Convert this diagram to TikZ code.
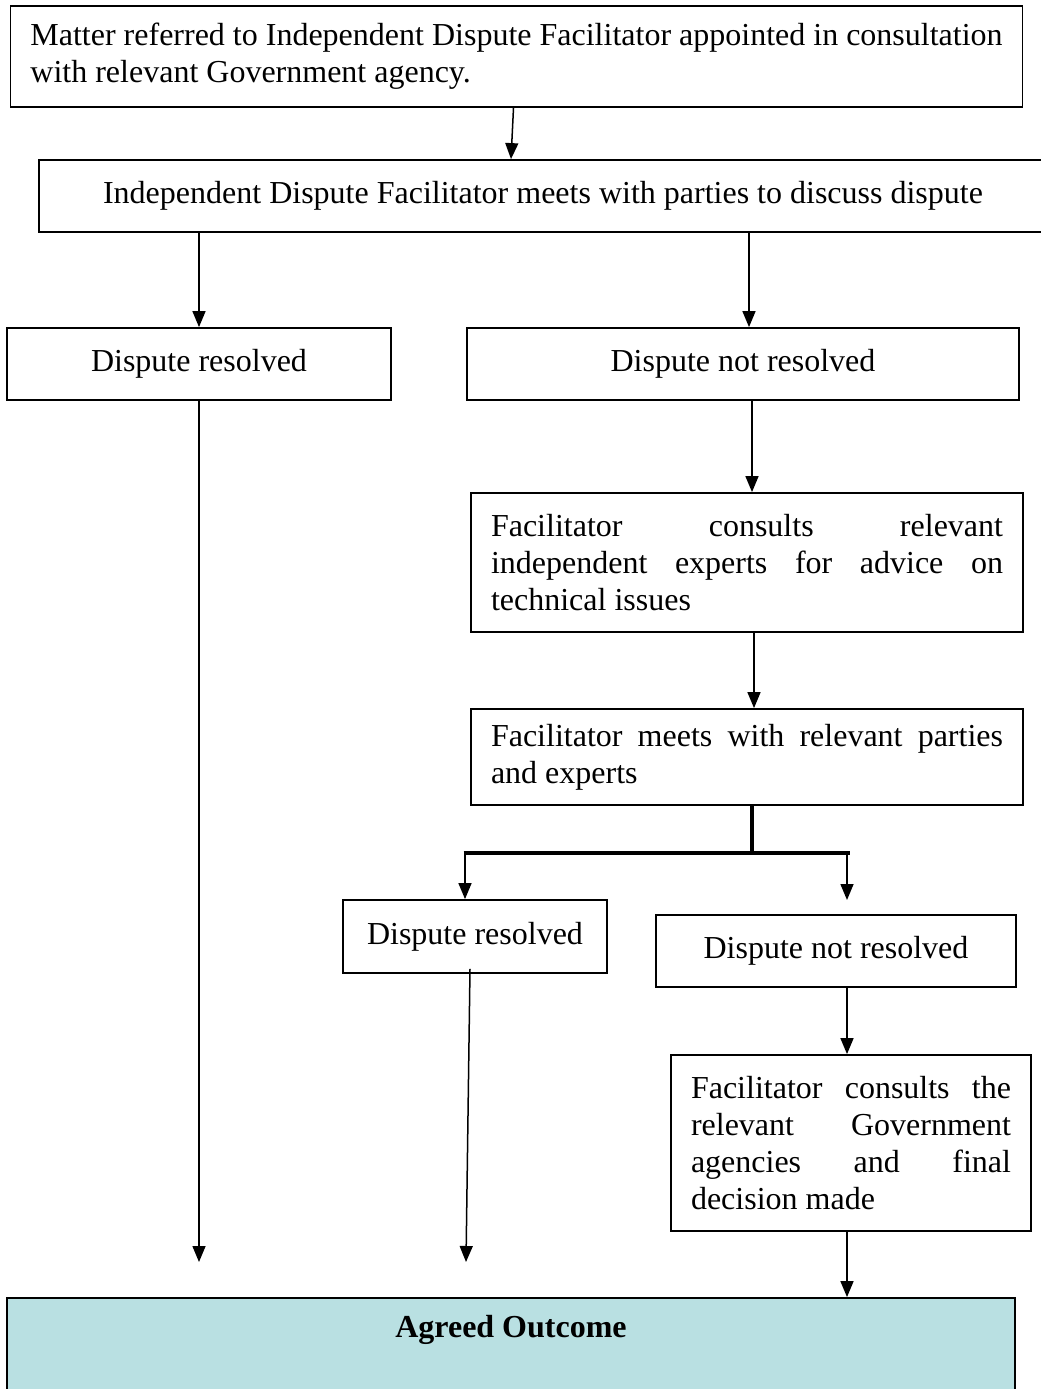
\documentclass[tikz,border=0pt]{standalone}
\usepackage{fontspec}
\setmainfont{Liberation Serif}
\usetikzlibrary{arrows.meta}
\definecolor{outcomeblue}{RGB}{185,224,226}
\begin{document}
\begin{tikzpicture}[x=1pt, y=-1pt,
    font=\fontsize{32}{37}\selectfont,
    box/.style={draw, line width=1.8pt, inner xsep=20pt, inner ysep=0pt},
    onebox/.style={box, minimum height=72pt},
    textbox/.style={box, text width=#1, align=justify},
    link/.style={line width=1.5pt, -{Triangle[width=13pt,length=16pt]}},
    fork/.style={line width=3.5pt}]
  \useasboundingbox (0,0) rectangle (1041,1389);

  % Nodes
  \node[box, align=left, minimum width=1009pt, minimum height=101pt] (top) at (516.5,56.5)
    {Matter referred to Independent Dispute Facilitator appointed in consultation\\with relevant Government agency.};
  \node[onebox, minimum width=1008pt] (meet) at (543,196)
    {Independent Dispute Facilitator meets with parties to discuss dispute};
  \node[onebox, minimum width=384pt] (res1) at (199,364) {Dispute resolved};
  \node[onebox, minimum width=552pt] (nres1) at (743,364) {Dispute not resolved};
  \node[textbox=512pt, minimum height=139pt] (experts) at (747,562.5)
    {Facilitator consults relevant\linebreak independent experts for advice on\linebreak technical issues};
  \node[textbox=512pt, minimum height=96pt] (meets) at (747,757)
    {Facilitator meets with relevant parties\linebreak and experts};
  \node[onebox, minimum width=264pt, minimum height=73pt] (res2) at (475,936.5) {Dispute resolved};
  \node[onebox, minimum width=360pt] (nres2) at (836,951) {Dispute not resolved};
  \node[textbox=320pt, minimum height=176pt] (gov) at (851,1143)
    {Facilitator consults the\linebreak relevant Government\linebreak agencies and final\linebreak decision made};
  \node[box, fill=outcomeblue, minimum width=1008pt, minimum height=104pt, align=center,
    font=\fontsize{32}{37}\selectfont\bfseries] (outcome) at (511,1350)
    {Agreed Outcome\\\strut};

  \coordinate (split) at (752,853);
  \coordinate (splitL) at (465,853);
  \coordinate (splitR) at (848,853);
  \coordinate (nres2top) at (847,900);
  \coordinate (end1) at (199,1262);
  \coordinate (end2) at (466,1262);

  % Edges
  \draw[link] ([xshift=-3pt]top.south) -- ([xshift=-32pt]meet.north);
  \draw[link] (meet.south -| res1.north) -- (res1.north);
  \draw[link] ([xshift=6pt]meet.south -| nres1.north) -- ([xshift=6pt]nres1.north);
  \draw[link] ([xshift=9pt]nres1.south) -- ([xshift=5pt]experts.north);
  \draw[link] ([xshift=7pt]experts.south) -- ([xshift=7pt]meets.north);
  \draw[fork] ([xshift=5pt]meets.south) -- (split);
  \draw[fork] ([xshift=-1.5pt]splitL) -- ([xshift=1.5pt]splitR);
  \draw[link] (splitL) -- (res2.north -| splitL);
  \draw[link] ([xshift=-1pt]splitR) -- (nres2top);
  \draw[link] ([xshift=11pt]nres2.south) -- ([xshift=-4pt]gov.north);
  \draw[link] (res1.south) -- (end1);
  \draw[link] ([xshift=-5pt,yshift=5pt]res2.south) -- (end2);
  \draw[link] ([xshift=-4pt]gov.south) -- (outcome.north -| 847,0);
\end{tikzpicture}
\end{document}
